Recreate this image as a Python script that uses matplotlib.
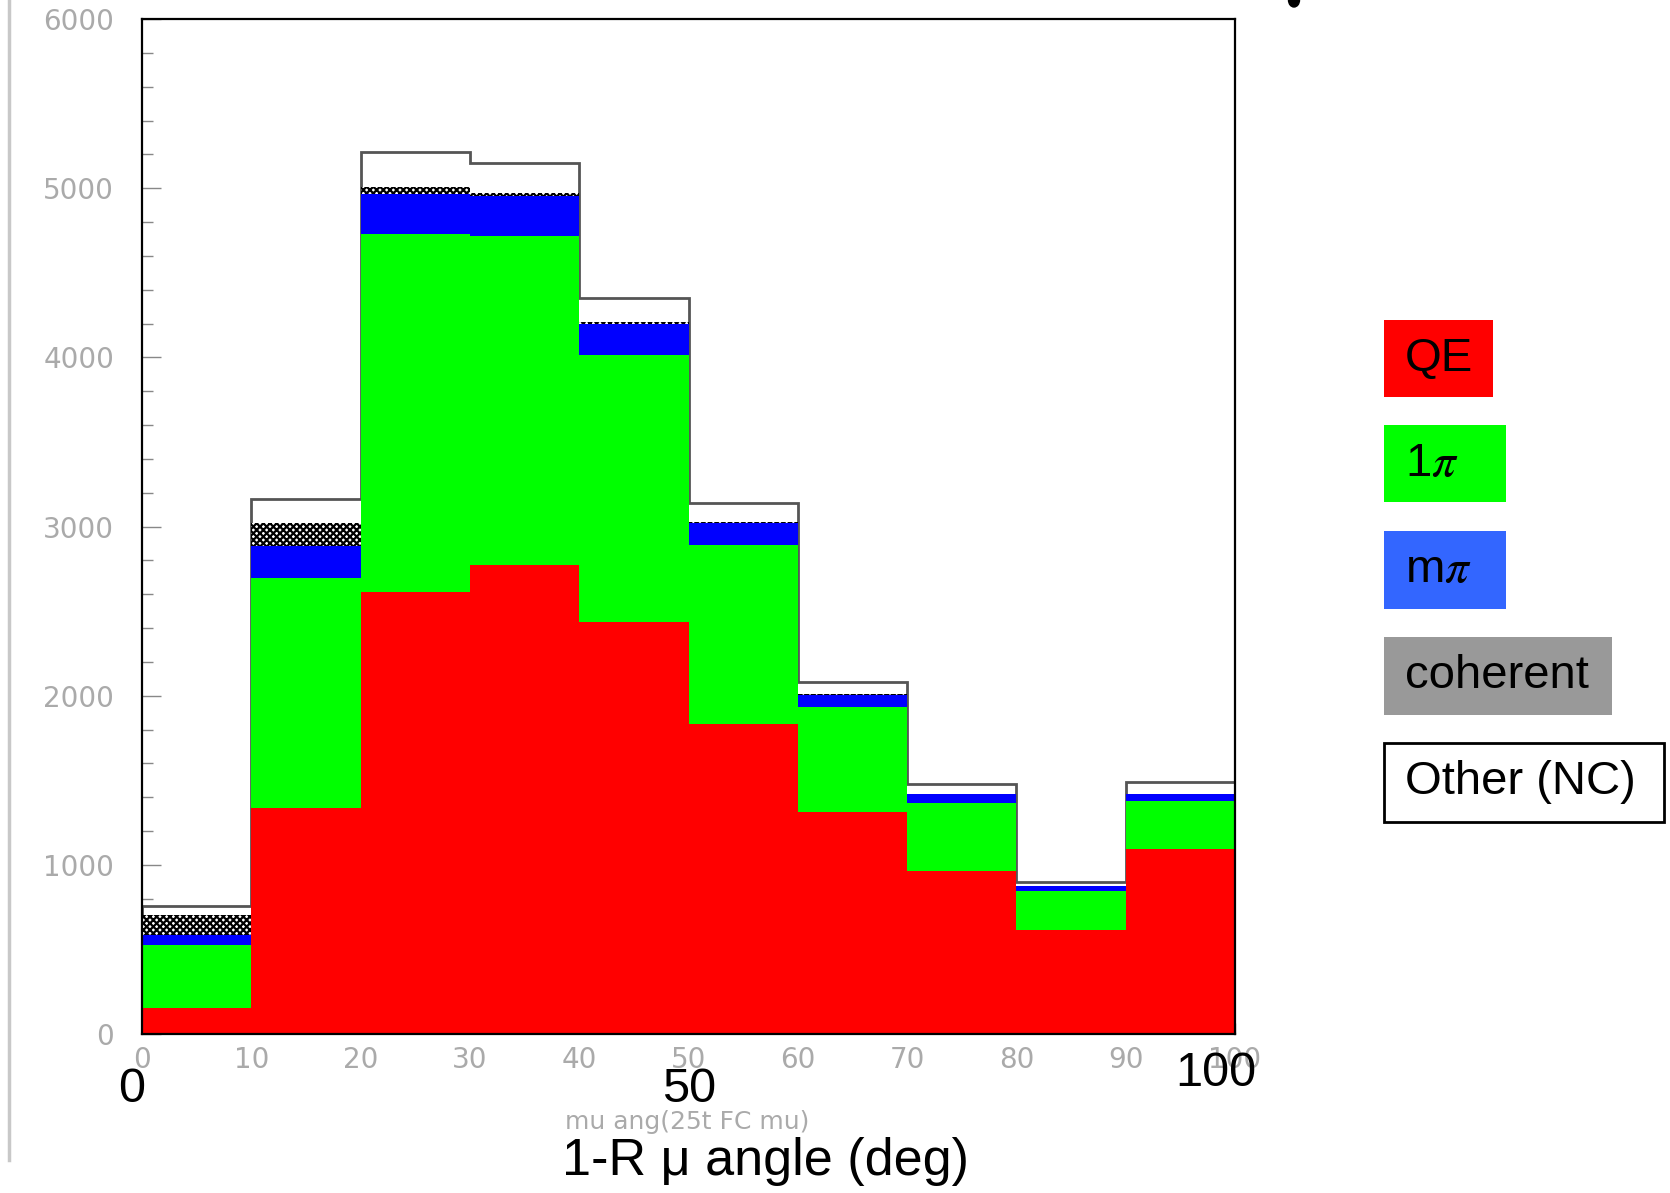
import numpy as np
import matplotlib
matplotlib.use("Agg")
import matplotlib.pyplot as plt
from matplotlib.patches import Rectangle, Ellipse
from matplotlib.lines import Line2D

# bin edges of the muon angle histogram (deg)
edges = np.arange(0, 101, 10)

# events per bin, per interaction mode (stacked bottom to top)
qe = [154, 1334, 2615, 2772, 2437, 1830, 1310, 966, 616, 1093]
one_pi = [373, 1363, 2112, 1945, 1576, 1061, 624, 398, 231, 287]
multi_pi = [59, 187, 238, 238, 183, 132, 71, 53, 28, 37]
coherent = [118, 138, 39, 14, 14, 5, 3, 2, 1, 2]
other_nc = [53, 138, 209, 177, 142, 109, 73, 57, 25, 69]

yticks = [0, 1000, 2000, 3000, 4000, 5000, 6000]
xticks = [0, 10, 20, 30, 40, 50, 60, 70, 80, 90, 100]

legend_labels = ["QE", r"1$\pi$", r"m$\pi$", "coherent", "Other (NC)"]

plt.rcParams["mathtext.fontset"] = "stix"
plt.rcParams["hatch.linewidth"] = 1.6

W, H = 1670, 1193
fig = plt.figure(figsize=(W / 100, H / 100), dpi=100)


def fx(px):
    return px / W


def fy(py):
    return 1 - py / H


ax = fig.add_axes([fx(142), fy(1034), fx(1235) - fx(142), fy(19) - fy(1034)])

stack = np.array([qe, one_pi, multi_pi, coherent, other_nc], dtype=float)
tops = np.cumsum(stack, axis=0)
bottoms = np.vstack([np.zeros(len(qe)), tops[:-1]])
left = edges[:-1]

# outline of the total, drawn under the filled layers
ax.stairs(tops[-1], edges, color="#555555", lw=2.0, zorder=1)

ax.bar(left, stack[0], width=10, bottom=bottoms[0], align="edge",
       color="#ff0000", lw=0, zorder=2)
ax.bar(left, stack[1], width=10, bottom=bottoms[1], align="edge",
       color="#00ff00", lw=0, zorder=2)
ax.bar(left, stack[2], width=10, bottom=bottoms[2], align="edge",
       color="#0000ff", lw=0, zorder=2)
ax.bar(left, stack[3], width=10, bottom=bottoms[3], align="edge",
       facecolor="white", edgecolor="black", hatch="xxxxx", lw=0, zorder=2)

ax.set_xlim(0, 100)
ax.set_ylim(0, 6000)

for s in ax.spines.values():
    s.set_linewidth(1.6)
    s.set_zorder(5)

ax.set_yticks(yticks)
ax.set_yticks(np.arange(0, 6001, 200), minor=True)
ax.set_xticks(xticks)
ax.set_xticks(np.arange(0, 101, 2), minor=True)
ax.tick_params(axis="y", which="major", direction="in", length=14, width=1,
               color="#888888", labelsize=20, labelcolor="#aaaaaa", pad=20)
ax.tick_params(axis="y", which="minor", direction="in", length=8, width=1,
               color="#888888")
ax.tick_params(axis="x", which="major", direction="in", length=8, width=1,
               color="#888888", labelsize=20, labelcolor="#aaaaaa", pad=9)
ax.tick_params(axis="x", which="minor", direction="in", length=4, width=1,
               color="#888888")
ax.set_xticklabels([str(v) for v in xticks])
ax.set_yticklabels([str(v) for v in yticks])

# overlaid slide annotations
big = dict(family="Liberation Sans", color="black", ha="center", va="center")
fig.text(fx(132), fy(1090), "0", fontsize=35, **big)
fig.text(fx(689), fy(1089), "50", fontsize=35, **big)
fig.text(fx(1216), fy(1073), "100", fontsize=35, **big)
fig.text(fx(687), fy(1122), "mu ang(25t FC mu)", fontsize=18,
         color="#aaaaaa", ha="center", va="center")
fig.text(fx(765), fy(1162), "1-R \u03bc angle (deg)", fontsize=37.5, **big)

# legend boxes on the right
boxes = [
    (1384, 320, 1493, 397, "#ff0000", None),
    (1384, 425, 1506, 502, "#00ff00", None),
    (1384, 531, 1506, 609, "#3366ff", None),
    (1384, 637, 1612, 715, "#999999", None),
    (1384, 743, 1664, 822, "white", "black"),
]
for (x0, y0, x1, y1, fc, ec), lab in zip(boxes, legend_labels):
    fig.add_artist(Rectangle((fx(x0), fy(y1)), fx(x1) - fx(x0), fy(y0) - fy(y1),
                             transform=fig.transFigure, facecolor=fc,
                             edgecolor=ec if ec else "none", lw=2))
    fig.text(fx(1405), fy((y0 + y1) / 2), lab, fontsize=34,
             family="Liberation Sans", color="black", ha="left", va="center")

# slide border line and cut-off glyph at the top
fig.add_artist(Line2D([fx(9), fx(9)], [fy(0), fy(1160)],
                      transform=fig.transFigure, color="#c8c8c8", lw=2.5))
fig.add_artist(Ellipse((fx(1294), fy(0)), fx(11), 14 / H,
                       transform=fig.transFigure, color="black"))

fig.savefig("out.png", dpi=100)
